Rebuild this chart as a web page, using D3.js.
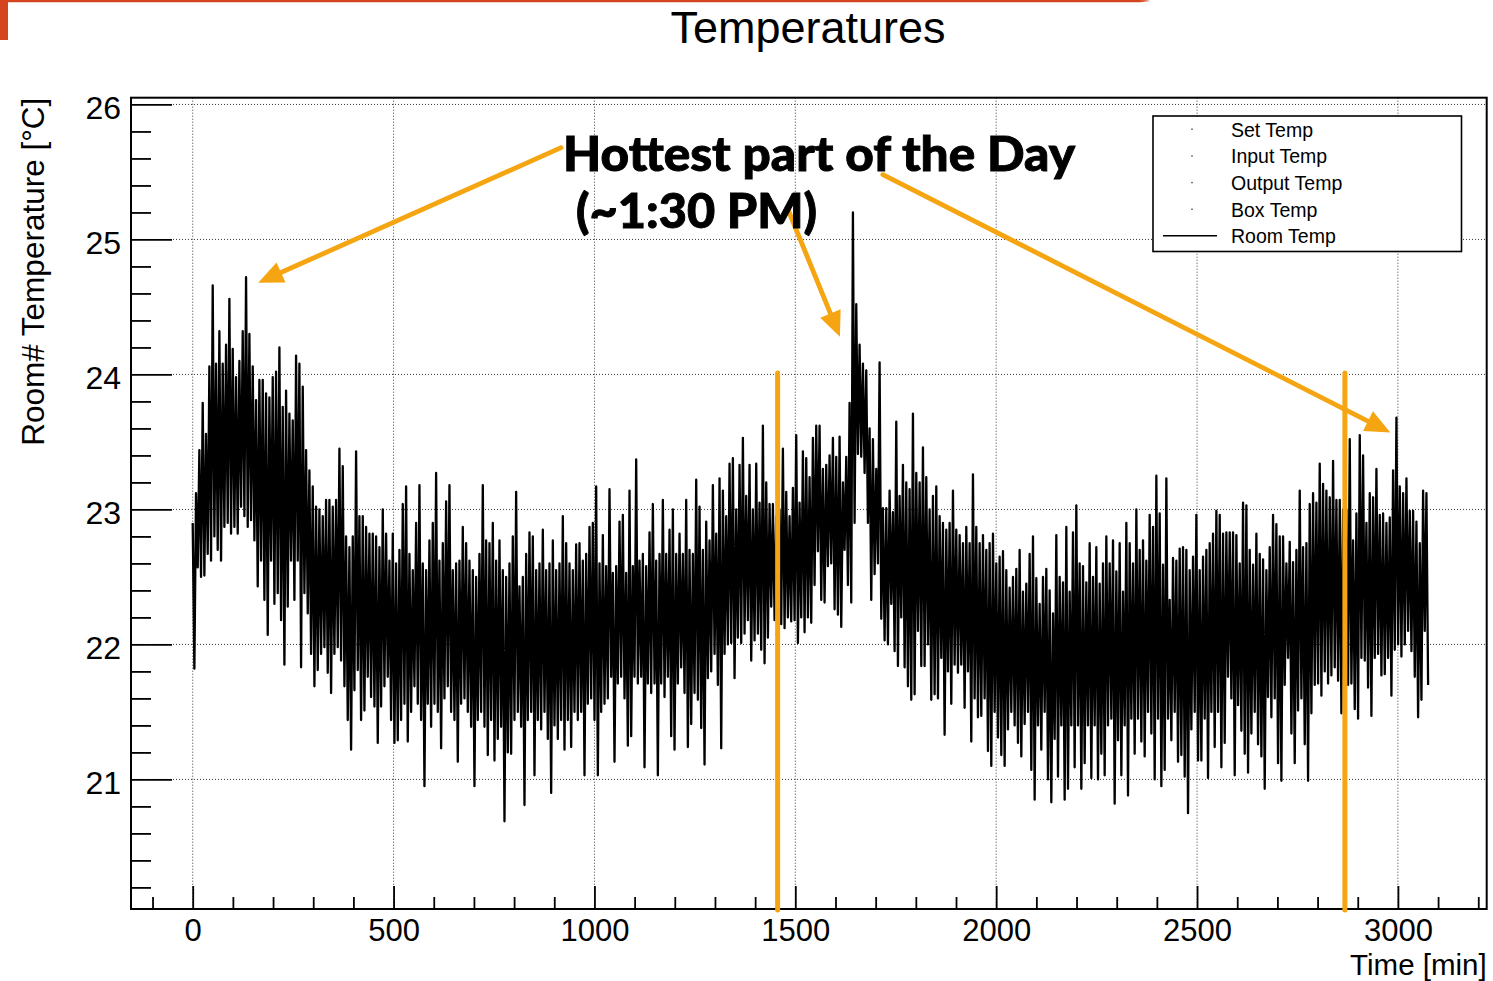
<!DOCTYPE html>
<html>
<head>
<meta charset="utf-8">
<title>Temperatures</title>
<script src="https://cdn.jsdelivr.net/npm/d3@7"></script>
<style>
  html, body { margin: 0; padding: 0; background: #ffffff; }
  svg { display: block; }
  .axis text { font-family: "Liberation Sans", Arial, Helvetica, sans-serif; fill: #000; }
</style>
</head>
<body>
<svg id="chart" width="1493" height="981"></svg>
<script>
// Room temperature log: one sample every SAMPLE_STEP minutes,
// each sample keeps the highest and lowest reading inside that interval (°C).
const SAMPLE_STEP = 8.3;

const roomHigh = [
  // 0 - 500 min
  22.9, 23.12, 23.44, 23.79, 23.56, 24.06, 24.66, 24.08, 24.32, 24.08,
  24.22, 24.56, 24.19, 23.98, 24.1, 24.32, 24.72, 24.3, 24.06, 23.81,
  23.96, 23.96, 23.86, 23.83, 23.98, 24.02, 24.2, 23.76, 23.88, 23.71,
  23.66, 24.14, 24.08, 23.91, 23.44, 23.29, 23.17, 23.02, 23.0, 22.95,
  23.07, 23.07, 23.02, 23.07, 23.45, 23.32, 22.8, 22.72, 22.8, 23.43,
  22.95, 22.95, 22.87, 22.82, 22.82, 22.8, 22.72, 23.0, 22.82, 22.62,
  22.82,
  // 500 - 1020 min
  22.6, 22.7, 23.04, 23.17, 22.67, 22.55, 22.9, 23.18, 22.6, 22.55,
  22.77, 22.9, 23.27, 22.62, 22.75, 23.06, 23.18, 22.55, 22.6, 22.62,
  22.87, 22.75, 22.62, 22.55, 22.5, 22.67, 23.18, 22.77, 22.75, 22.9,
  22.62, 22.77, 22.55, 22.5, 22.6, 22.8, 23.13, 22.43, 22.5, 22.67,
  22.83, 22.8, 22.55, 22.6, 22.85, 22.55, 22.6, 22.77, 22.55, 22.6,
  22.95, 22.75, 22.6, 22.55, 22.74, 22.75, 22.62, 22.67, 22.87, 22.9,
  23.17, 22.6, 22.81,
  // 1030 - 1535 min
  22.58, 23.15, 22.53, 22.58, 22.91, 22.96, 22.53, 23.14, 22.58, 23.37,
  22.62, 22.67, 22.58, 22.83, 23.04, 22.62, 22.67, 23.07, 22.67, 22.85,
  23.0, 22.67, 22.82, 22.67, 23.07, 22.7, 22.67, 23.22, 23.02, 22.7,
  22.91, 22.77, 23.18, 22.82, 23.23, 23.14, 22.95, 23.34, 23.38, 23.0,
  23.33, 23.53, 23.1, 23.33, 23.0, 23.34, 23.05, 23.62, 23.2, 23.04,
  23.04, 22.95, 23.0, 23.45, 23.13, 22.95, 23.16, 23.55, 23.05, 23.43,
  23.38, 23.24,
  // 1545 - 2050 min
  23.53, 23.62, 23.62, 23.3, 23.33, 23.4, 23.53, 23.39, 23.54, 23.2,
  23.39, 23.79, 25.2, 24.52, 24.22, 24.08, 24.03, 23.6, 23.52, 23.3,
  24.09, 23.01, 23.01, 23.14, 22.98, 23.65, 23.1, 23.33, 23.2, 23.15,
  23.71, 23.27, 23.2, 23.46, 23.24, 23.0, 23.1, 23.17, 22.95, 22.9,
  22.85, 22.9, 23.14, 22.85, 22.81, 22.75, 22.87, 22.75, 23.26, 22.87,
  22.75, 22.81, 22.7, 22.75, 22.82, 22.6, 22.65, 22.69, 22.55, 22.42,
  22.5, 22.56,
  // 2060 - 2565 min
  22.7, 22.39, 22.45, 22.67, 22.8, 22.49, 22.3, 22.5, 22.56, 22.4,
  22.23, 22.81, 22.5, 22.46, 22.87, 22.39, 22.83, 23.03, 22.6, 22.58,
  22.46, 22.75, 22.5, 22.72, 22.45, 22.6, 22.8, 22.6, 22.77, 22.54,
  22.75, 22.39, 22.9, 22.75, 22.6, 23.0, 22.7, 22.77, 22.62, 22.96,
  22.87, 23.25, 22.97, 22.59, 23.23, 22.33, 22.64, 22.62, 22.71, 22.72,
  22.7, 22.55, 22.65, 22.96, 22.55, 22.65, 22.7, 22.75, 22.82, 22.99,
  22.96, 22.82,
  // 2575 - 3070 min
  22.83, 22.83, 22.83, 22.81, 22.6, 23.05, 23.03, 22.7, 22.59, 22.82,
  22.67, 22.63, 22.55, 22.72, 22.96, 22.89, 22.8, 22.8, 22.6, 22.76,
  22.61, 22.7, 23.14, 22.72, 22.75, 23.04, 23.12, 23.05, 23.34, 23.19,
  23.14, 23.09, 23.36, 23.07, 23.07, 23.0, 23.0, 23.52, 22.77, 22.97,
  23.55, 23.4, 22.9, 23.12, 23.09, 23.3, 22.96, 22.97, 22.9, 22.94,
  23.29, 23.68, 23.17, 23.12, 23.23, 22.99, 22.99, 22.91, 22.75, 23.14,
  23.12
];

const roomLow = [
  // 0 - 500 min
  21.82, 22.57, 22.5, 22.51, 22.67, 22.62, 22.8, 22.7, 22.62, 22.87,
  22.9, 22.82, 22.87, 22.82, 23.02, 22.95, 22.87, 22.92, 22.77, 22.43,
  22.62, 22.33, 22.07, 22.62, 22.3, 22.38, 22.18, 21.85, 22.28, 22.62,
  22.33, 22.62, 21.83, 22.38, 22.23, 21.93, 21.69, 21.81, 21.93, 21.98,
  21.79, 21.64, 21.93, 21.98, 21.88, 21.69, 21.44, 21.22, 21.66, 21.81,
  21.44, 21.51, 21.76, 21.61, 21.54, 21.27, 21.54, 21.69, 21.76, 21.44,
  21.27,
  // 500 - 1020 min
  21.29, 21.44, 21.56, 21.28, 21.5, 21.69, 21.56, 21.44, 20.95, 21.56,
  21.39, 21.56, 21.5, 21.23, 21.6, 21.69, 21.5, 21.44, 21.13, 21.56,
  21.6, 21.5, 21.39, 20.95, 21.44, 21.5, 21.39, 21.18, 21.44, 21.14,
  21.3, 21.39, 20.69, 21.2, 21.19, 21.44, 21.5, 21.39, 20.81, 21.44,
  21.5, 21.03, 21.44, 21.37, 21.5, 21.3, 20.9, 21.4, 21.3, 21.44,
  21.22, 21.44, 21.24, 21.5, 21.44, 21.5, 21.03, 21.56, 21.6, 21.44,
  21.03, 21.5, 21.56,
  // 1030 - 1535 min
  21.6, 21.76, 21.13, 21.71, 21.76, 21.6, 21.25, 21.32, 21.76, 21.71,
  21.76, 21.09, 21.71, 21.64, 21.71, 21.03, 21.71, 21.61, 21.76, 21.32,
  21.22, 21.71, 21.83, 21.64, 21.24, 21.41, 21.64, 21.59, 21.38, 21.11,
  21.75, 21.8, 21.93, 21.7, 21.23, 21.93, 22.0, 22.01, 21.75, 22.05,
  22.01, 22.08, 22.18, 21.88, 22.03, 22.08, 21.96, 21.86, 22.05, 22.28,
  22.18, 22.1, 22.15, 22.12, 22.2, 22.17, 22.18, 22.01, 22.2, 22.09,
  22.2, 22.16,
  // 1545 - 2050 min
  22.44, 22.69, 22.33, 22.31, 22.58, 22.6, 22.26, 22.22, 22.13, 22.7,
  22.44, 22.31, 22.9, 23.41, 23.39, 23.27, 22.9, 22.33, 22.52, 22.6,
  22.19, 22.03, 22.0, 22.3, 21.95, 21.84, 22.2, 21.83, 21.69, 21.59,
  21.63, 22.1, 21.84, 21.84, 22.0, 21.59, 21.63, 21.6, 21.9, 21.33,
  21.8, 21.56, 21.85, 21.79, 21.85, 21.53, 21.8, 21.28, 21.6, 21.46,
  21.47, 21.6, 21.21, 21.1, 21.5, 21.31, 21.18, 21.1, 21.37, 21.5,
  21.4, 21.27,
  // 2060 - 2565 min
  21.17, 21.41, 21.5, 21.07, 20.85, 21.4, 21.22, 21.5, 21.0, 20.83,
  21.3, 21.02, 21.4, 20.85, 20.93, 21.4, 21.09, 21.4, 20.93, 21.12,
  21.4, 21.01, 21.4, 21.0, 21.19, 21.03, 21.4, 21.45, 20.82, 21.29,
  21.03, 21.4, 20.88, 21.45, 21.19, 21.45, 21.28, 21.17, 21.5, 21.34,
  21.0, 21.45, 20.95, 21.07, 21.45, 21.29, 21.5, 21.13, 21.18, 21.02,
  20.75, 21.37, 21.5, 21.14, 21.14, 21.45, 21.01, 21.5, 21.24, 21.5,
  21.09, 21.27,
  // 2575 - 3070 min
  21.76, 21.6, 21.03, 21.55, 21.36, 21.19, 21.05, 21.34, 21.5, 21.26,
  21.17, 20.93, 21.61, 21.46, 21.6, 21.12, 20.99, 21.7, 21.9, 21.34,
  21.12, 21.51, 21.6, 21.26, 20.99, 21.49, 21.7, 21.71, 21.62, 21.8,
  21.71, 21.77, 21.83, 21.73, 21.49, 21.8, 21.7, 21.71, 21.52, 21.45,
  21.9, 21.88, 21.68, 21.47, 21.9, 21.93, 21.77, 21.78, 21.9, 21.62,
  21.96, 22.0, 21.91, 22.0, 22.1, 21.95, 21.76, 21.46, 21.59, 22.1,
  21.7
];

const xMajorTicks = [0, 500, 1000, 1500, 2000, 2500, 3000];
const yMajorTicks = [21, 22, 23, 24, 25, 26];
const legendLabels = ["Set Temp", "Input Temp", "Output Temp", "Box Temp", "Room Temp"];
const legendMarkers = ["dot", "dot", "dot", "dot", "line"];
const dayBoundaryTimes = [1456, 2868];       // minutes
const calloutText = ["Hottest part of the Day", "(~1:30 PM)"];

// ---------------------------------------------------------------
const svg = d3.select("#chart");
const W = 1493, H = 981;
const frame = { left: 131, right: 1486.7, top: 97.7, bottom: 909 };
const ORANGE = "#f5a511";

const x = d3.scaleLinear().domain([-153.6, 3221]).range([frame.left, frame.right]);
const y = d3.scaleLinear().domain([20.04, 26.05]).range([frame.bottom, frame.top]);

svg.append("rect").attr("width", W).attr("height", H).attr("fill", "#fff");

// slide header accent
svg.append("rect").attr("x", 0).attr("y", 0).attr("width", 8).attr("height", 40).attr("fill", "#d4451f");
svg.append("path")
  .attr("d", "M0,0 L1138,0 Q1146,0 1150,1 L1140,2.2 L0,2.2 Z")
  .attr("fill", "#d4451f");

// title
svg.append("text")
  .attr("x", 808).attr("y", 43)
  .attr("text-anchor", "middle")
  .attr("font-family", "'Liberation Sans', Arial, sans-serif")
  .attr("font-size", 45)
  .text("Temperatures");

// grid
const grid = svg.append("g").attr("stroke", "#3a3a3a").attr("stroke-width", 1)
  .attr("stroke-dasharray", "1,2");
grid.selectAll("line.v").data(xMajorTicks).join("line")
  .attr("x1", d => x(d)).attr("x2", d => x(d))
  .attr("y1", frame.top).attr("y2", frame.bottom);
grid.selectAll("line.h").data(yMajorTicks).join("line")
  .attr("x1", frame.left).attr("x2", frame.right)
  .attr("y1", d => y(d)).attr("y2", d => y(d));

// data
svg.append("clipPath").attr("id", "plotClip")
  .append("rect")
  .attr("x", frame.left).attr("y", frame.top)
  .attr("width", frame.right - frame.left).attr("height", frame.bottom - frame.top);

const points = [];
roomHigh.forEach((hi, i) => {
  const t = i * SAMPLE_STEP;
  points.push([t, hi]);
  points.push([t + SAMPLE_STEP / 2, roomLow[i]]);
});
const line = d3.line().x(d => x(d[0])).y(d => y(d[1]));
svg.append("path")
  .attr("clip-path", "url(#plotClip)")
  .attr("d", line(points))
  .attr("fill", "none")
  .attr("stroke", "#000")
  .attr("stroke-width", 2.3)
  .attr("stroke-linejoin", "round");

// axes (ticks point into the frame, as in ROOT)
const xMinor = d3.range(-100, 3201, 100).filter(v => v % 500 !== 0);
const yMinor = d3.range(20.2, 26.001, 0.2).map(v => +v.toFixed(1)).filter(v => Math.abs(v - Math.round(v)) > 1e-6);

const xAxisMajor = svg.append("g").attr("class", "axis")
  .attr("transform", `translate(0,${frame.bottom})`)
  .call(d3.axisBottom(x).tickValues(xMajorTicks).tickSize(-23).tickPadding(10).tickFormat(d3.format("d")));
const xAxisMinor = svg.append("g").attr("class", "axis")
  .attr("transform", `translate(0,${frame.bottom})`)
  .call(d3.axisBottom(x).tickValues(xMinor).tickSize(-12).tickFormat(""));
const yAxisMajor = svg.append("g").attr("class", "axis")
  .attr("transform", `translate(${frame.left},0)`)
  .call(d3.axisLeft(y).tickValues(yMajorTicks).tickSize(-41).tickPadding(10).tickFormat(d3.format("d")));
const yAxisMinor = svg.append("g").attr("class", "axis")
  .attr("transform", `translate(${frame.left},0)`)
  .call(d3.axisLeft(y).tickValues(yMinor).tickSize(-20).tickFormat(""));

[xAxisMajor, xAxisMinor, yAxisMajor, yAxisMinor].forEach(g => {
  g.select(".domain").remove();
  g.selectAll(".tick line").attr("stroke", "#000").attr("stroke-width", 1.8);
});
xAxisMajor.selectAll("text").attr("font-size", 31);
yAxisMajor.selectAll("text").attr("font-size", 32).attr("dy", "0.45em");

// frame
svg.append("rect")
  .attr("x", frame.left).attr("y", frame.top)
  .attr("width", frame.right - frame.left).attr("height", frame.bottom - frame.top)
  .attr("fill", "none").attr("stroke", "#000").attr("stroke-width", 2);

// axis titles
svg.append("text")
  .attr("x", frame.right).attr("y", 974.5)
  .attr("text-anchor", "end")
  .attr("font-family", "'Liberation Sans', Arial, sans-serif")
  .attr("font-size", 29.5)
  .text("Time [min]");
svg.append("text")
  .attr("transform", `translate(44,${frame.top}) rotate(-90)`)
  .attr("text-anchor", "end")
  .attr("font-family", "'Liberation Sans', Arial, sans-serif")
  .attr("font-size", 31.5)
  .text("Room# Temperature [°C]");

// legend
const legend = svg.append("g").attr("transform", "translate(1153,116)");
legend.append("rect").attr("width", 308.5).attr("height", 135.5)
  .attr("fill", "#fff").attr("stroke", "#000").attr("stroke-width", 1.6);
const rows = legend.selectAll("g.row").data(legendLabels).join("g")
  .attr("class", "row")
  .attr("transform", (d, i) => `translate(0,${13 + i * 26.7})`);
rows.append("text")
  .attr("x", 78).attr("y", 7.5)
  .attr("font-family", "'Liberation Sans', Arial, sans-serif")
  .attr("font-size", 19.5)
  .text(d => d);
rows.filter((d, i) => legendMarkers[i] === "dot").append("rect")
  .attr("x", 38.3).attr("y", -0.5).attr("width", 1.4).attr("height", 1.4).attr("fill", "#444");
rows.filter((d, i) => legendMarkers[i] === "line").append("line")
  .attr("x1", 10).attr("x2", 64).attr("y1", 0).attr("y2", 0)
  .attr("stroke", "#000").attr("stroke-width", 1.6);

// day boundary markers
svg.selectAll("line.day").data(dayBoundaryTimes).join("line")
  .attr("class", "day")
  .attr("x1", d => x(d)).attr("x2", d => x(d))
  .attr("y1", y(24.01)).attr("y2", frame.bottom + 1)
  .attr("stroke", ORANGE).attr("stroke-width", 5).attr("stroke-linecap", "round");

// callout arrows, in data coordinates (minutes, °C)
const arrows = [
  { from: [917, 25.68], to: [163, 24.68] },
  { from: [1482, 25.22], to: [1611, 24.28] },
  { from: [1718, 25.48], to: [2981, 23.57] }
];
const arrowG = svg.append("g");
arrows.forEach(a => {
  const x0 = x(a.from[0]), y0 = y(a.from[1]);
  const x1 = x(a.to[0]), y1 = y(a.to[1]);
  const dx = x1 - x0, dy = y1 - y0, len = Math.hypot(dx, dy);
  const ux = dx / len, uy = dy / len;
  const headL = 25, headW = 11;
  const bx = x1 - ux * headL, by = y1 - uy * headL;
  arrowG.append("line")
    .attr("x1", x0).attr("y1", y0).attr("x2", bx + ux * 2).attr("y2", by + uy * 2)
    .attr("stroke", ORANGE).attr("stroke-width", 4.8).attr("stroke-linecap", "round");
  arrowG.append("path")
    .attr("d", `M${x1},${y1} L${bx - uy * headW},${by + ux * headW} L${bx + uy * headW},${by - ux * headW} Z`)
    .attr("fill", ORANGE);
});

// callout text
const callout = svg.append("g")
  .attr("font-family", "Lato, 'Noto Sans', sans-serif").attr("font-weight", 900)
  .attr("font-size", 48)
  .attr("stroke", "#000").attr("stroke-width", 0.9).attr("fill", "#000");
callout.append("text")
  .attr("x", 563).attr("y", 171)
  .attr("textLength", 512).attr("lengthAdjust", "spacingAndGlyphs")
  .text(calloutText[0]);
callout.append("text")
  .attr("x", 576).attr("y", 228)
  .attr("textLength", 241).attr("lengthAdjust", "spacingAndGlyphs")
  .text(calloutText[1]);
</script>
</body>
</html>
